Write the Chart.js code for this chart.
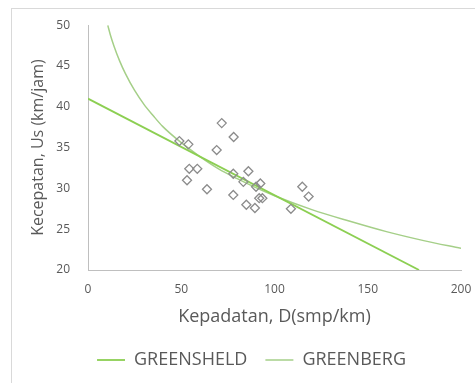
<!DOCTYPE html>
<html>
<head>
<meta charset="utf-8">
<script src="https://cdn.jsdelivr.net/npm/chart.js@4/dist/chart.umd.min.js"></script>
<style>
  html, body { margin: 0; padding: 0; background: #fff; }
  #wrap { position: relative; width: 475px; height: 383px; overflow: hidden; }
  #frame { position: absolute; left: 11px; top: 8px; width: 500px; height: 400px; border: 1px solid #d9d9d9; }
  canvas { position: absolute; left: 0; top: 0; }
</style>
</head>
<body>
<div id="wrap">
  <div id="frame"></div>
  <canvas id="chart" width="475" height="383"></canvas>
</div>
<script>
// data
const obsDensity = [49, 53.8, 71.7, 78.1, 69, 54.3, 58.6, 53.1, 63.8, 77.9, 86, 83.3, 77.9, 90.1, 92.4, 91.8, 93.5, 84.9, 89.5, 108.8, 114.9, 118.3]
const obsSpeed   = [35.8, 35.4, 38, 36.3, 34.7, 32.4, 32.4, 31, 29.9, 31.8, 32.1, 30.8, 29.2, 30.2, 30.6, 28.8, 28.8, 28, 27.6, 27.5, 30.2, 29]

const greenshieldD = [0, 177.5]
const greenshieldU = [41, 20]

const greenbergD = [10.6, 12, 14, 17, 20, 25, 30, 35, 40, 50, 60, 70, 80, 90, 100, 120, 140, 160, 180, 200]
const greenbergU = [50, 48.8, 47.4, 45.6, 44.1, 42, 40.3, 38.9, 37.6, 35.6, 33.9, 32.4, 31.2, 30.1, 29.1, 27.4, 26, 24.7, 23.6, 22.65]

const xTitle = 'Kepadatan, D(smp/km)'
const yTitle = 'Kecepatan, Us (km/jam)'

const pts = (xs, ys) => xs.map((x, i) => ({ x, y: ys[i] }))

const FONT = '"Open Sans", sans-serif'
const TXT = '#595959'

// legend sits a bit right of centre in the original
const shiftLegend = {
  id: 'shiftLegend',
  afterLayout(chart) {
    chart.legend.left += 21
    chart.legend.right += 21
  }
}

new Chart(document.getElementById('chart'), {
  type: 'scatter',
  plugins: [shiftLegend],
  data: {
    datasets: [
      {
        label: 'Data',
        data: pts(obsDensity, obsSpeed),
        pointStyle: 'rectRot',
        pointRadius: 4.5,
        pointBorderWidth: 1.3,
        pointBorderColor: '#8c8c8c',
        pointBackgroundColor: 'rgba(255,255,255,0)'
      },
      {
        label: 'GREENSHELD',
        type: 'line',
        data: pts(greenshieldD, greenshieldU),
        borderColor: '#8ccf52',
        borderWidth: 1.8,
        pointRadius: 0,
        pointStyle: 'line',
        fill: false
      },
      {
        label: 'GREENBERG',
        type: 'line',
        data: pts(greenbergD, greenbergU),
        borderColor: '#a5cf88',
        borderWidth: 1.5,
        pointRadius: 0,
        pointStyle: 'line',
        cubicInterpolationMode: 'monotone',
        fill: false
      }
    ]
  },
  options: {
    responsive: false,
    animation: false,
    layout: { padding: { top: 24, right: 14, left: 0, bottom: 4 } },
    plugins: {
      tooltip: { enabled: false },
      legend: {
        position: 'bottom',
        labels: {
          filter: item => item.datasetIndex > 0,
          usePointStyle: true,
          pointStyleWidth: 28,
          boxHeight: 8,
          color: TXT,
          padding: 18,
          font: { family: FONT, size: 18 }
        }
      }
    },
    scales: {
      x: {
        type: 'linear',
        min: 0, max: 200,
        grid: { display: false, drawTicks: false },
        border: { color: '#bfbfbf' },
        ticks: { stepSize: 50, padding: 12, color: TXT, font: { family: FONT, size: 12 } },
        title: { display: true, text: xTitle, color: TXT, padding: { top: 1, bottom: 5 }, font: { family: FONT, size: 18 } },
        afterFit: s => { s.height = 63; s.paddingRight = 0 }
      },
      y: {
        min: 20, max: 50,
        grid: { display: false, drawTicks: false },
        border: { color: '#bfbfbf' },
        ticks: { stepSize: 5, padding: 18, color: TXT, font: { family: FONT, size: 12 } },
        title: { display: true, text: yTitle, color: TXT, padding: { top: 29, bottom: 0 }, font: { family: FONT, size: 16 } },
        afterFit: s => { s.width = 88 }
      }
    }
  }
})
</script>
</body>
</html>
